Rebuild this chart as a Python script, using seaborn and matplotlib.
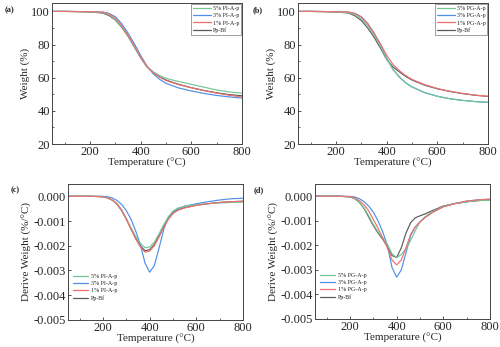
import numpy as np
import pandas as pd
import matplotlib
matplotlib.use("Agg")
import matplotlib.pyplot as plt
from matplotlib.ticker import MultipleLocator, FormatStrFormatter
import seaborn as sns

# ---------------- data ----------------
temp_tga = [50, 100, 150, 200, 250, 275, 300, 325, 350, 375, 400, 425, 450, 475,
            500, 550, 600, 650, 700, 750, 800]

labels_pi = ["5% PI-A-p", "3% PI-A-p", "1% PI-A-p", "Pp-Bf"]
labels_pg = ["5% PG-A-p", "3% PG-A-p", "1% PG-A-p", "Pp-Bf"]

# (a) TGA, PI series
a_5 = [100, 100, 99.9, 99.7, 99.2, 98.0, 95.0, 90.8, 85.3, 78.8, 72.2, 66.8, 63.5, 61.3, 59.6, 57.7, 56.0, 54.3, 52.6, 51.4, 50.7]
a_3 = [100, 100, 99.9, 99.8, 99.6, 98.8, 96.8, 92.6, 87.0, 80.5, 73.5, 67.0, 62.3, 59.0, 56.6, 53.8, 52.0, 50.5, 49.3, 48.4, 47.7]
a_1 = [100, 100, 99.9, 99.8, 99.6, 98.5, 96.0, 91.5, 85.8, 79.2, 72.5, 66.8, 63.0, 60.3, 58.3, 55.8, 53.9, 52.2, 50.7, 49.4, 48.4]
a_b = [100, 100, 99.9, 99.7, 99.0, 97.5, 94.8, 90.5, 85.0, 78.6, 72.0, 66.5, 63.0, 60.5, 58.6, 56.0, 54.0, 52.3, 50.9, 49.8, 49.1]

# (b) TGA, PG series
b_5 = [100, 100, 99.9, 99.7, 99.2, 98.0, 95.5, 91.5, 86.0, 79.0, 71.5, 65.0, 60.5, 57.0, 54.5, 51.0, 48.8, 47.3, 46.3, 45.6, 45.2]
b_3 = [100, 100, 99.9, 99.8, 99.6, 98.8, 96.8, 92.8, 87.0, 79.8, 71.8, 65.0, 60.3, 56.9, 54.4, 51.0, 48.8, 47.3, 46.3, 45.6, 45.1]
b_1 = [100, 100, 99.9, 99.8, 99.6, 98.7, 96.5, 92.5, 87.0, 80.5, 73.5, 68.0, 64.3, 61.3, 59.0, 55.8, 53.5, 51.8, 50.5, 49.5, 48.8]
b_b = [100, 100, 99.9, 99.7, 99.0, 97.3, 94.5, 90.0, 84.5, 78.0, 71.0, 66.5, 63.5, 60.8, 58.6, 55.5, 53.3, 51.7, 50.4, 49.4, 48.7]

temp_dtg = [50, 100, 150, 200, 220, 240, 260, 280, 300, 320, 340, 360, 380, 400,
            420, 440, 460, 480, 500, 520, 550, 600, 650, 700, 750, 800]

# (c) DTG, PI series
c_5 = [0, 0, 0, -0.00002, -0.00006, -0.00015, -0.0003, -0.00055, -0.0009, -0.00127, -0.00162, -0.0019, -0.00208, -0.00205,
       -0.00185, -0.00152, -0.00115, -0.00083, -0.0006, -0.00048, -0.0004, -0.00034, -0.0003, -0.00027, -0.00025, -0.00024]
c_3 = [0, 0, 0, 0, -0.00002, -0.00007, -0.00017, -0.00033, -0.00058, -0.00093, -0.0014, -0.00195, -0.0027, -0.00307,
       -0.0028, -0.0021, -0.00135, -0.00085, -0.00062, -0.0005, -0.0004, -0.0003, -0.00022, -0.00015, -0.0001, -0.00008]
c_1 = [0, 0, 0, -0.00002, -0.00006, -0.00015, -0.0003, -0.00056, -0.00092, -0.00132, -0.00172, -0.00205, -0.00226, -0.00222,
       -0.002, -0.00165, -0.00127, -0.00093, -0.0007, -0.00057, -0.00047, -0.00037, -0.0003, -0.00025, -0.00022, -0.0002]
c_b = [0, 0, 0, -0.00002, -0.00007, -0.00016, -0.00032, -0.00058, -0.00093, -0.00132, -0.0017, -0.002, -0.0022, -0.00216,
       -0.00195, -0.0016, -0.00122, -0.0009, -0.00068, -0.00055, -0.00046, -0.00036, -0.0003, -0.00025, -0.00022, -0.0002]

# (d) DTG, PG series
d_5 = [0, 0, 0, -0.00003, -0.0001, -0.00025, -0.00048, -0.0008, -0.00115, -0.00145, -0.0017, -0.00195, -0.00235, -0.0025,
       -0.00238, -0.00215, -0.0018, -0.0014, -0.00105, -0.00085, -0.00065, -0.00042, -0.0003, -0.00023, -0.00018, -0.00016]
d_3 = [0, 0, 0, -0.00001, -0.00003, -0.0001, -0.00022, -0.0004, -0.00065, -0.001, -0.00145, -0.002, -0.0029, -0.0033,
       -0.003, -0.0023, -0.0016, -0.00125, -0.00105, -0.00088, -0.00068, -0.00043, -0.0003, -0.0002, -0.00015, -0.00012]
d_1 = [0, 0, 0, -0.00002, -0.00007, -0.00018, -0.00035, -0.0006, -0.00095, -0.0013, -0.0017, -0.0021, -0.0026, -0.0028,
       -0.0026, -0.0021, -0.00155, -0.00125, -0.00105, -0.00088, -0.00068, -0.00043, -0.0003, -0.0002, -0.00015, -0.00012]
d_b = [0, 0, 0, -0.00003, -0.0001, -0.00025, -0.0005, -0.00085, -0.0012, -0.0015, -0.00175, -0.00205, -0.00242, -0.0025,
       -0.0021, -0.0015, -0.00108, -0.00088, -0.0008, -0.00073, -0.0006, -0.0004, -0.0003, -0.00023, -0.00018, -0.00015]

colors = ["#72c795", "#4f8fe8", "#ef6f6f", "#5a5a5a"]

# ---------------- style ----------------
sns.set_theme(style="ticks")
plt.rcParams["font.family"] = ["Liberation Serif", "DejaVu Serif"]
plt.rcParams["axes.unicode_minus"] = False


def long_df(x, series, labels):
    frames = []
    for lab, ys in zip(labels, series):
        frames.append(pd.DataFrame({"T": x, "v": ys, "s": lab}))
    return pd.concat(frames, ignore_index=True)


fig = plt.figure(figsize=(5.0, 3.47), dpi=100)
ax_a = fig.add_axes([0.104, 0.585, 0.380, 0.406])
ax_b = fig.add_axes([0.596, 0.585, 0.380, 0.406])
ax_c = fig.add_axes([0.136, 0.078, 0.350, 0.392])
ax_d = fig.add_axes([0.630, 0.081, 0.350, 0.389])

panels = [
    (ax_a, temp_tga, [a_5, a_3, a_1, a_b], labels_pi, "tga"),
    (ax_b, temp_tga, [b_5, b_3, b_1, b_b], labels_pg, "tga"),
    (ax_c, temp_dtg, [c_5, c_3, c_1, c_b], labels_pi, "dtg"),
    (ax_d, temp_dtg, [d_5, d_3, d_1, d_b], labels_pg, "dtg"),
]

for ax, x, series, labels, kind in panels:
    df = long_df(x, series, labels)
    sns.lineplot(data=df, x="T", y="v", hue="s", hue_order=labels,
                 palette=colors, linewidth=0.85, ax=ax, legend=True)
    # keep the reference line under the coloured curves
    for ln, z in zip(ax.get_lines()[:4], [2.3, 2.2, 2.4, 2.0]):
        ln.set_zorder(z)
    ax.set_xlim(50, 800)
    ax.xaxis.set_major_locator(MultipleLocator(200))
    ax.xaxis.set_minor_locator(MultipleLocator(100))
    ax.set_xlabel("Temperature (\u00b0C)", fontsize=8, labelpad=0)
    if kind == "tga":
        ax.set_ylim(20, 105)
        ax.yaxis.set_major_locator(MultipleLocator(20))
        ax.yaxis.set_minor_locator(MultipleLocator(10))
        ax.set_ylabel("Weight (%)", fontsize=8, labelpad=1)
        leg = ax.legend(loc="upper right", fontsize=4.3, frameon=True,
                        fancybox=False, handlelength=3.0, labelspacing=0.35,
                        borderpad=0.3, handletextpad=0.3, borderaxespad=0.15)
        leg.get_frame().set_edgecolor("#555555")
        leg.get_frame().set_linewidth(0.5)
    else:
        ax.set_ylim(-0.005, 0.0005)
        ax.yaxis.set_major_locator(MultipleLocator(0.001))
        ax.yaxis.set_major_formatter(FormatStrFormatter("%.3f"))
        ax.set_ylabel("Derive Weight (%/\u00b0C)", fontsize=8, labelpad=1)
        leg = ax.legend(loc="lower left", fontsize=4.3, frameon=False,
                        handlelength=2.5, labelspacing=0.35,
                        handletextpad=0.4, bbox_to_anchor=(0.0, 0.1))
    for line in leg.get_lines():
        line.set_linewidth(0.9)
    ax.tick_params(axis="both", which="major", direction="in", length=2.5,
                   width=0.6, labelsize=9, pad=1.5, color="#333333")
    ax.tick_params(axis="both", which="minor", direction="in", length=1.5,
                   width=0.5, color="#333333")
    for sp in ax.spines.values():
        sp.set_linewidth(0.7)
        sp.set_color("#444444")
        sp.set_visible(True)

fig.text(0.010, 0.965, "(a)", fontsize=6, fontweight="bold")
fig.text(0.505, 0.965, "(b)", fontsize=6, fontweight="bold")
fig.text(0.022, 0.445, "(c)", fontsize=6, fontweight="bold")
fig.text(0.508, 0.447, "(d)", fontsize=6, fontweight="bold")

fig.savefig("out.png", dpi=100)
